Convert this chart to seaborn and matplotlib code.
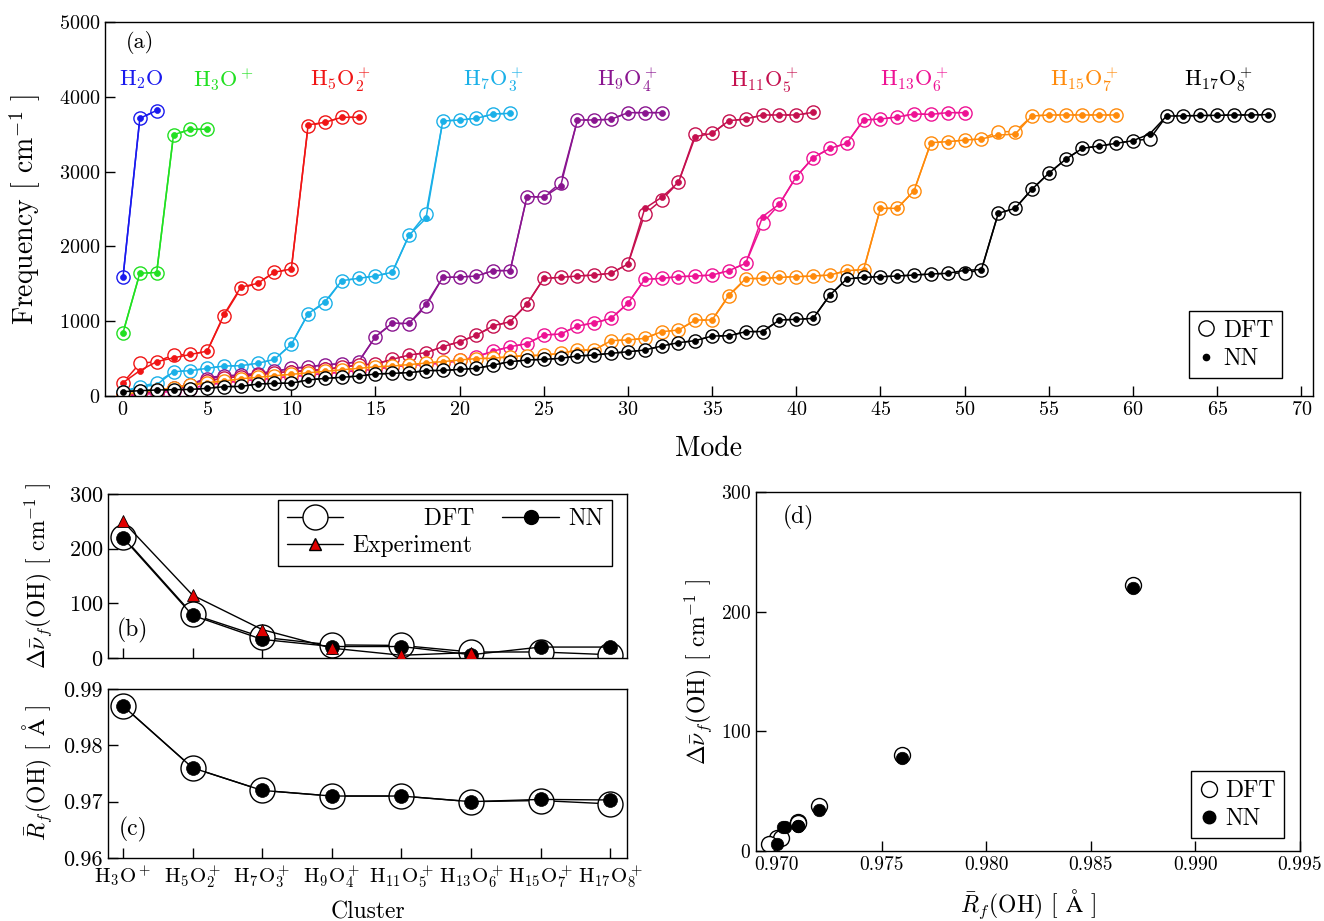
import matplotlib
matplotlib.use("Agg")
import matplotlib.pyplot as plt
from matplotlib.lines import Line2D
import seaborn as sns
import pandas as pd

# ---------------- vibrational frequencies (cm^-1) per normal mode ----------------
h2o_dft = [1590, 3712, 3815]
h2o_nn = [1588, 3712, 3818]

h3o_dft = [847, 1640, 1650, 3489, 3565, 3565]
h3o_nn = [845, 1642, 1650, 3492, 3565, 3567]

h5o2_dft = [178, 437, 459, 548, 555, 600, 1075, 1440, 1506, 1655, 1698, 3614, 3659, 3726, 3726]
h5o2_nn = [178, 339, 459, 510, 555, 600, 1090, 1455, 1506, 1655, 1698, 3625, 3659, 3726, 3726]

h7o3_dft = [60, 125, 178, 325, 339, 370, 401, 405, 437, 490, 690, 1100, 1245, 1542, 1573, 1604,
            1655, 2152, 2433, 3676, 3690, 3712, 3770, 3779]
h7o3_nn = [60, 120, 150, 325, 339, 370, 401, 405, 437, 490, 690, 1100, 1260, 1542, 1573, 1604,
           1655, 2152, 2375, 3676, 3690, 3712, 3770, 3779]

h9o4_dft = [20, 40, 70, 110, 150, 230, 267, 280, 300, 330, 370, 388, 420, 428, 459, 793, 968,
            965, 1200, 1586, 1590, 1604, 1676, 1676, 2665, 2660, 2852, 3690, 3690, 3699, 3788,
            3788, 3788]
h9o4_nn = [20, 40, 70, 110, 150, 250, 267, 280, 300, 330, 370, 388, 420, 428, 459, 793, 975,
           970, 1225, 1586, 1590, 1604, 1676, 1676, 2665, 2660, 2807, 3690, 3690, 3699, 3788,
           3788, 3788]

h11o5_dft = [10, 30, 60, 100, 130, 200, 240, 260, 285, 310, 325, 339, 356, 385, 414, 428, 490,
             548, 579, 659, 726, 810, 935, 993, 1225, 1573, 1586, 1604, 1617, 1640, 1765, 2433,
             2620, 2856, 3498, 3511, 3681, 3703, 3757, 3757, 3757, 3792]
h11o5_nn = [10, 30, 60, 100, 130, 200, 240, 260, 285, 310, 325, 339, 356, 385, 414, 428, 490,
            548, 579, 659, 726, 815, 940, 993, 1230, 1573, 1586, 1604, 1617, 1640, 1765, 2508,
            2656, 2856, 3467, 3511, 3681, 3703, 3757, 3757, 3757, 3792]

h13o6_dft = [0, 20, 40, 70, 100, 150, 180, 200, 220, 240, 260, 280, 300, 320, 340, 360, 390, 410,
             425, 440, 475, 526, 600, 659, 700, 815, 829, 936, 975, 1038, 1239, 1560, 1573, 1595,
             1604, 1617, 1676, 1774, 2309, 2567, 2932, 3186, 3311, 3378, 3690, 3703, 3730, 3770,
             3765, 3788, 3788]
h13o6_nn = [0, 20, 40, 70, 100, 150, 180, 200, 220, 240, 260, 280, 300, 320, 340, 360, 390, 410,
            425, 440, 475, 526, 600, 659, 700, 815, 829, 936, 980, 1038, 1239, 1560, 1573, 1595,
            1604, 1617, 1676, 1774, 2398, 2567, 2932, 3186, 3311, 3378, 3690, 3703, 3730, 3770,
            3765, 3788, 3788]

h15o7_dft = [20, 50, 80, 110, 150, 180, 200, 230, 250, 270, 290, 310, 330, 350, 370, 390, 400,
             420, 440, 460, 481, 500, 505, 526, 540, 545, 570, 615, 615, 740, 749, 771, 860, 882,
             1010, 1016, 1340, 1565, 1573, 1586, 1595, 1604, 1617, 1676, 1684, 2509, 2509, 2745,
             3387, 3400, 3422, 3436, 3534, 3534, 3743, 3757, 3757, 3757, 3757, 3757]
h15o7_nn = [20, 50, 80, 110, 150, 180, 200, 230, 250, 270, 290, 310, 330, 350, 370, 390, 400,
            420, 440, 460, 481, 500, 505, 526, 540, 545, 570, 615, 615, 740, 749, 771, 860, 882,
            1016, 1016, 1350, 1570, 1573, 1586, 1595, 1604, 1617, 1676, 1690, 2509, 2509, 2745,
            3387, 3400, 3422, 3436, 3489, 3500, 3743, 3757, 3757, 3757, 3757, 3757]

h17o8_dft = [58, 71, 80, 85, 88, 102, 125, 128, 160, 169, 172, 214, 236, 250, 267, 294, 303, 312,
             339, 342, 356, 370, 414, 459, 481, 490, 504, 535, 548, 570, 592, 615, 668, 713, 740,
             802, 805, 860, 862, 1016, 1025, 1038, 1350, 1564, 1586, 1595, 1604, 1617, 1631, 1640,
             1645, 1684, 2442, 2509, 2763, 2977, 3164, 3311, 3342, 3378, 3413, 3436, 3743, 3745,
             3750, 3752, 3757, 3757, 3762]
h17o8_nn = [58, 71, 80, 85, 88, 102, 125, 128, 160, 169, 172, 214, 236, 250, 267, 294, 303, 312,
            339, 342, 356, 370, 414, 459, 481, 490, 504, 535, 548, 570, 592, 615, 668, 713, 740,
            802, 805, 860, 862, 1016, 1025, 1038, 1350, 1564, 1586, 1595, 1604, 1617, 1631, 1640,
            1680, 1690, 2442, 2509, 2763, 2977, 3164, 3311, 3342, 3378, 3413, 3503, 3743, 3745,
            3750, 3752, 3757, 3757, 3762]

species_labels = [r"$\mathrm{H_2O}$", r"$\mathrm{H_3O^+}$", r"$\mathrm{H_5O_2^+}$",
                  r"$\mathrm{H_7O_3^+}$", r"$\mathrm{H_9O_4^+}$", r"$\mathrm{H_{11}O_5^+}$",
                  r"$\mathrm{H_{13}O_6^+}$", r"$\mathrm{H_{15}O_7^+}$", r"$\mathrm{H_{17}O_8^+}$"]
species_colors = ["#1a1aee", "#22e022", "#f01515", "#1ab0e8", "#8a1590", "#c5104f",
                  "#ee1294", "#ff8a0a", "#000000"]
species_label_x = [1.1, 6.0, 12.9, 22.0, 30.0, 38.1, 47.0, 57.1, 65.1]
species_label_y = 4225

dft_series = [h2o_dft, h3o_dft, h5o2_dft, h7o3_dft, h9o4_dft, h11o5_dft, h13o6_dft, h15o7_dft, h17o8_dft]
nn_series = [h2o_nn, h3o_nn, h5o2_nn, h7o3_nn, h9o4_nn, h11o5_nn, h13o6_nn, h15o7_nn, h17o8_nn]

# ---------------- free OH stretch shift and bond length per cluster ----------------
clusters = [r"$\mathrm{H_3O^+}$", r"$\mathrm{H_5O_2^+}$", r"$\mathrm{H_7O_3^+}$",
            r"$\mathrm{H_9O_4^+}$", r"$\mathrm{H_{11}O_5^+}$", r"$\mathrm{H_{13}O_6^+}$",
            r"$\mathrm{H_{15}O_7^+}$", r"$\mathrm{H_{17}O_8^+}$"]
dnu_dft = [222, 80, 38, 24, 23, 11, 11, 6]
dnu_nn = [220, 78, 34, 21, 21, 6, 20, 20]
dnu_exp = [250, 115, 52, 18, 5, 10]
rf_dft = [0.987, 0.976, 0.972, 0.971, 0.971, 0.970, 0.9702, 0.9696]
rf_nn = [0.987, 0.976, 0.972, 0.971, 0.971, 0.970, 0.9704, 0.9703]

# ---------------- style ----------------
sns.set_style("ticks")
plt.rcParams.update({
    "font.family": "serif",
    "font.serif": ["cmr10", "DejaVu Serif"],
    "mathtext.fontset": "cm",
    "axes.formatter.use_mathtext": True,
    "axes.unicode_minus": False,
    "axes.linewidth": 1.0,
    "axes.edgecolor": "black",
    "xtick.direction": "in",
    "ytick.direction": "in",
    "xtick.major.size": 7,
    "ytick.major.size": 7,
    "xtick.major.width": 1.0,
    "ytick.major.width": 1.0,
    "xtick.color": "black",
    "ytick.color": "black",
    "text.color": "black",
    "axes.labelcolor": "black",
    "legend.fancybox": False,
    "legend.edgecolor": "black",
    "legend.framealpha": 1.0,
})

W, H = 1324, 921
fig = plt.figure(figsize=(W / 100, H / 100), dpi=100)


def box(left, top, right, bottom):
    return [left / W, 1 - bottom / H, (right - left) / W, (bottom - top) / H]


ax_a = fig.add_axes(box(105, 22, 1313, 396))
ax_b = fig.add_axes(box(108, 494, 627, 658))
ax_c = fig.add_axes(box(108, 689, 627, 858))
ax_d = fig.add_axes(box(756, 492, 1300, 851))

# ---------------- (a) mode spectra ----------------
for lab, col, lx, dft, nn in zip(species_labels, species_colors, species_label_x, dft_series, nn_series):
    df = pd.DataFrame({"mode": range(len(dft)), "dft": dft, "nn": nn})
    sns.lineplot(data=df, x="mode", y="dft", ax=ax_a, color=col, lw=1.1, marker="o",
                 markersize=9.5, markerfacecolor="white", markeredgecolor=col,
                 markeredgewidth=1.0, estimator=None, sort=False)
    sns.lineplot(data=df, x="mode", y="nn", ax=ax_a, color=col, lw=1.1, marker="o",
                 markersize=4.3, markerfacecolor=col, markeredgecolor=col,
                 markeredgewidth=0.5, estimator=None, sort=False)
    ax_a.text(lx, species_label_y, lab, color=col, fontsize=16, ha="center", va="center")

ax_a.set_xlim(-1.07, 70.7)
ax_a.set_ylim(0, 5000)
ax_a.set_xticks(range(0, 71, 5))
ax_a.set_yticks(range(0, 5001, 1000))
ax_a.tick_params(labelsize=14.5, top=False, right=False)
ax_a.set_xlabel("Mode", fontsize=20)
ax_a.set_ylabel(r"Frequency [ cm$^{-1}$ ]", fontsize=20)
ax_a.yaxis.set_label_coords(-0.051, 0.5)
ax_a.xaxis.set_label_coords(0.5, -0.107)
ax_a.text(0.029, 0.944, "(a)", transform=ax_a.transAxes, fontsize=16, ha="center", va="center")
leg_a = ax_a.legend(
    handles=[Line2D([], [], ls="none", marker="o", ms=11, mfc="white", mec="black", mew=1.0),
             Line2D([], [], ls="none", marker="o", ms=4.5, mfc="black", mec="black")],
    labels=["DFT", "NN"], loc="lower right", bbox_to_anchor=(0.974, 0.048), borderaxespad=0,
    fontsize=17, handlelength=0.8, handletextpad=0.3, borderpad=0.35, labelspacing=0.25)
leg_a.get_frame().set_linewidth(1.0)

# ---------------- (b) free OH frequency shift ----------------
idx = list(range(len(clusters)))
sns.lineplot(x=idx, y=dnu_dft, ax=ax_b, color="black", lw=1.0, marker="o", markersize=18,
             markerfacecolor="white", markeredgecolor="black", markeredgewidth=1.0,
             estimator=None, sort=False, zorder=2)
sns.lineplot(x=idx, y=dnu_nn, ax=ax_b, color="black", lw=1.0, marker="o", markersize=10,
             markerfacecolor="black", markeredgecolor="black", markeredgewidth=0.5,
             estimator=None, sort=False, zorder=3)
sns.lineplot(x=idx[:len(dnu_exp)], y=dnu_exp, ax=ax_b, color="black", lw=1.0, marker="^",
             markersize=8, markerfacecolor="#e00000", markeredgecolor="black",
             markeredgewidth=0.6, estimator=None, sort=False, zorder=4)
ax_b.set_xlim(-0.215, 7.24)
ax_b.set_ylim(0, 300)
ax_b.set_yticks([0, 100, 200, 300])
ax_b.set_xticks(idx)
ax_b.set_xticklabels([])
ax_b.tick_params(labelsize=16, top=False, right=False)
ax_b.set_ylabel(r"$\Delta\bar{\nu}_f$(OH) [ cm$^{-1}$ ]", fontsize=17)
ax_b.yaxis.set_label_coords(-0.104, 0.5)
ax_b.text(0.048, 0.17, "(b)", transform=ax_b.transAxes, fontsize=17, ha="center", va="center")
leg_b = ax_b.legend(
    handles=[Line2D([], [], color="black", lw=1.0, marker="o", ms=18, mfc="white", mec="black"),
             Line2D([], [], color="black", lw=1.0, marker="^", ms=8, mfc="#e00000", mec="black"),
             Line2D([], [], color="black", lw=1.0, marker="o", ms=10, mfc="black", mec="black")],
    labels=["         DFT", "Experiment", "NN"], ncol=2, loc="upper right",
    bbox_to_anchor=(0.971, 0.963), borderaxespad=0, fontsize=17, handlelength=2.4,
    handletextpad=0.4, columnspacing=1.2, borderpad=0.35, labelspacing=0.2)
leg_b.get_frame().set_linewidth(1.0)

# ---------------- (c) free OH bond length ----------------
sns.lineplot(x=idx, y=rf_dft, ax=ax_c, color="black", lw=1.0, marker="o", markersize=18,
             markerfacecolor="white", markeredgecolor="black", markeredgewidth=1.0,
             estimator=None, sort=False, zorder=2)
sns.lineplot(x=idx, y=rf_nn, ax=ax_c, color="black", lw=1.0, marker="o", markersize=10,
             markerfacecolor="black", markeredgecolor="black", markeredgewidth=0.5,
             estimator=None, sort=False, zorder=3)
ax_c.set_xlim(-0.215, 7.24)
ax_c.set_ylim(0.96, 0.99)
ax_c.set_yticks([0.96, 0.97, 0.98, 0.99])
ax_c.set_yticklabels(["0.96", "0.97", "0.98", "0.99"])
ax_c.set_xticks(idx)
ax_c.set_xticklabels(clusters)
ax_c.tick_params(axis="y", labelsize=16)
ax_c.tick_params(axis="x", labelsize=15)
ax_c.tick_params(top=False, right=False)
ax_c.set_xlabel("Cluster", fontsize=17)
ax_c.xaxis.set_label_coords(0.5, -0.254)
ax_c.set_ylabel(r"$\bar{R}_f$(OH) [ $\mathrm{\AA}$ ]", fontsize=17)
ax_c.yaxis.set_label_coords(-0.104, 0.5)
ax_c.text(0.048, 0.166, "(c)", transform=ax_c.transAxes, fontsize=17, ha="center", va="center")

# ---------------- (d) shift versus bond length ----------------
sns.scatterplot(x=rf_dft, y=dnu_dft, ax=ax_d, marker="o", s=11.5 ** 2, facecolor="white",
                edgecolor="black", linewidth=1.0, zorder=2)
sns.scatterplot(x=rf_nn, y=dnu_nn, ax=ax_d, marker="o", s=9 ** 2, color="black",
                edgecolor="black", linewidth=0.5, zorder=3)
ax_d.set_xlim(0.969, 0.995)
ax_d.set_ylim(0, 300)
ax_d.set_xticks([0.970, 0.975, 0.980, 0.985, 0.990, 0.995])
ax_d.set_xticklabels(["0.970", "0.975", "0.980", "0.985", "0.990", "0.995"])
ax_d.set_yticks([0, 100, 200, 300])
ax_d.tick_params(labelsize=14, top=False, right=False)
ax_d.set_xlabel(r"$\bar{R}_f$(OH) [ $\mathrm{\AA}$ ]", fontsize=17)
ax_d.xaxis.set_label_coords(0.5, -0.103)
ax_d.set_ylabel(r"$\Delta\bar{\nu}_f$(OH) [ cm$^{-1}$ ]", fontsize=17)
ax_d.yaxis.set_label_coords(-0.078, 0.5)
ax_d.text(0.078, 0.93, "(d)", transform=ax_d.transAxes, fontsize=17, ha="center", va="center")
leg_d = ax_d.legend(
    handles=[Line2D([], [], ls="none", marker="o", ms=11.5, mfc="white", mec="black", mew=1.0),
             Line2D([], [], ls="none", marker="o", ms=9, mfc="black", mec="black")],
    labels=["DFT", "NN"], loc="lower right", bbox_to_anchor=(0.971, 0.036), borderaxespad=0,
    fontsize=17, handlelength=0.8, handletextpad=0.3, borderpad=0.35, labelspacing=0.25)
leg_d.get_frame().set_linewidth(1.0)

for ax in (ax_a, ax_b, ax_c, ax_d):
    for s in ax.spines.values():
        s.set_visible(True)
        s.set_color("black")

fig.savefig("out.png", dpi=100)
